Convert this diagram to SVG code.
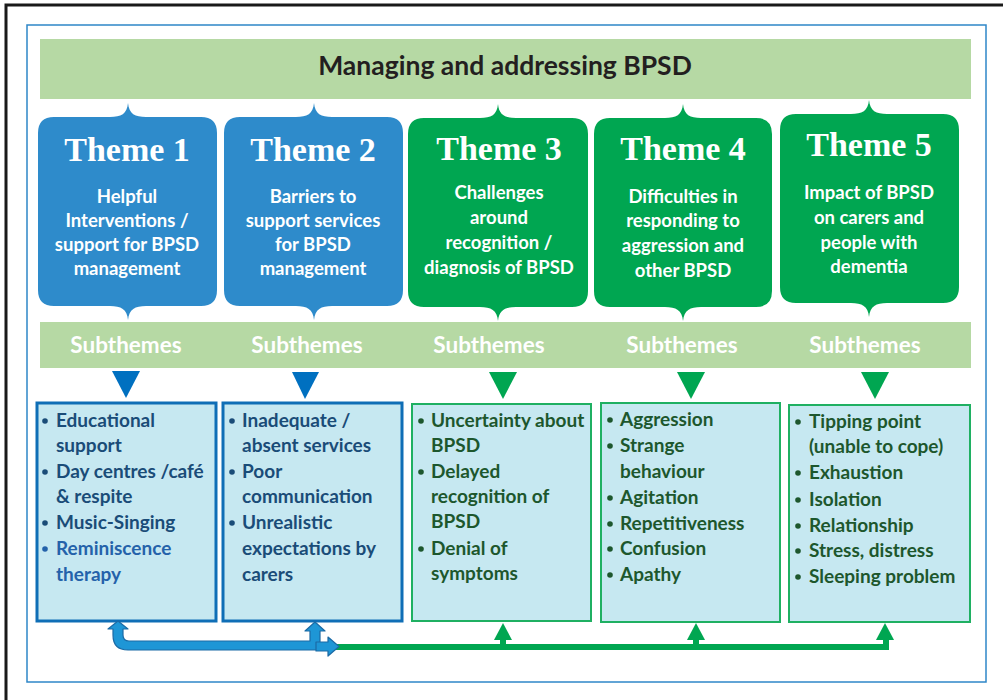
<svg xmlns="http://www.w3.org/2000/svg" width="1003" height="700" viewBox="0 0 1003 700">
  <style>
    .title { font-family: Lato, "Liberation Sans", sans-serif; font-weight: 700; font-size: 26.5px; fill: #231f20; text-anchor: middle; }
    .theme-blue { fill: #2e8bcb; }
    .theme-green { fill: #00a651; }
    .th { font-family: "Liberation Serif", serif; font-weight: 700; font-size: 34px; fill: #ffffff; text-anchor: middle; }
    .tb { font-family: Lato, "Liberation Sans", sans-serif; font-weight: 700; font-size: 18.5px; fill: #ffffff; text-anchor: middle; }
    .sub { font-family: Lato, "Liberation Sans", sans-serif; font-weight: 700; font-size: 22.5px; fill: #ffffff; text-anchor: middle; }
    .box-b { fill: #c6e8f1; stroke: #0f6eb6; stroke-width: 3; }
    .box-g { fill: #c6e8f1; stroke: #1fb062; stroke-width: 2; }
    .li { font-family: Lato, "Liberation Sans", sans-serif; font-weight: 700; font-size: 19px; }
    .lb { fill: #1a4c78; }
    .lb2 { fill: #2462aa; }
    .lg { fill: #1d572d; }
    .tri-b { fill: #0070c0; }
    .tri-g { fill: #00a651; }
  </style>

  <!-- outer frames -->
  <rect x="6" y="5" width="1010" height="710" fill="none" stroke="#1a1a1a" stroke-width="3"/>
  <rect x="27" y="25" width="959" height="657" fill="none" stroke="#2e86c8" stroke-width="1.5"/>

  <!-- header bar -->
  <g id="header">
    <rect x="40" y="39" width="931" height="60" fill="#b6d9a4"/>
    <text class="title" x="505" y="75">Managing and addressing BPSD</text>
  </g>

  <!-- theme cards -->
  <g id="theme1">
    <path class="theme-blue" d="M54,117 L110,117 C121,117 127,114 128,103 C129,114 135,117 146,117 L201,117 Q217,117 217,133 L217,290 Q217,306 201,306 L146,306 C135,306 129,309 128,320 C127,309 121,306 110,306 L54,306 Q38,306 38,290 L38,133 Q38,117 54,117 Z"/>
    <text class="th" x="127" y="161">Theme 1</text>
    <text class="tb" x="127" y="203">Helpful</text>
    <text class="tb" x="127" y="227">Interventions /</text>
    <text class="tb" x="127" y="251">support for BPSD</text>
    <text class="tb" x="127" y="275">management</text>
  </g>
  <g id="theme2">
    <path class="theme-blue" d="M240,117 L296,117 C307,117 313,114 314,103 C315,114 321,117 332,117 L387,117 Q403,117 403,133 L403,290 Q403,306 387,306 L332,306 C321,306 315,309 314,320 C313,309 307,306 296,306 L240,306 Q224,306 224,290 L224,133 Q224,117 240,117 Z"/>
    <text class="th" x="313" y="161">Theme 2</text>
    <text class="tb" x="313" y="203">Barriers to</text>
    <text class="tb" x="313" y="227">support services</text>
    <text class="tb" x="313" y="251">for BPSD</text>
    <text class="tb" x="313" y="275">management</text>
  </g>
  <g id="theme3">
    <path class="theme-green" d="M424,118 L480,118 C491,118 497,115 498,104 C499,115 505,118 516,118 L572,118 Q588,118 588,134 L588,291 Q588,307 572,307 L516,307 C505,307 499,310 498,321 C497,310 491,307 480,307 L424,307 Q408,307 408,291 L408,134 Q408,118 424,118 Z"/>
    <text class="th" x="499" y="160">Theme 3</text>
    <text class="tb" x="499" y="199">Challenges</text>
    <text class="tb" x="499" y="224">around</text>
    <text class="tb" x="499" y="249">recognition /</text>
    <text class="tb" x="499" y="274">diagnosis of BPSD</text>
  </g>
  <g id="theme4">
    <path class="theme-green" d="M610,118 L665,118 C676,118 682,115 683,104 C684,115 690,118 701,118 L756,118 Q772,118 772,134 L772,291 Q772,307 756,307 L701,307 C690,307 684,310 683,321 C682,310 676,307 665,307 L610,307 Q594,307 594,291 L594,134 Q594,118 610,118 Z"/>
    <text class="th" x="683" y="160">Theme 4</text>
    <text class="tb" x="683" y="203">Difficulties in</text>
    <text class="tb" x="683" y="227">responding to</text>
    <text class="tb" x="683" y="252">aggression and</text>
    <text class="tb" x="683" y="277">other BPSD</text>
  </g>
  <g id="theme5">
    <path class="theme-green" d="M796,114 L851,114 C862,114 868,111 869,100 C870,111 876,114 887,114 L943,114 Q959,114 959,130 L959,287 Q959,303 943,303 L887,303 C876,303 870,306 869,317 C868,306 862,303 851,303 L796,303 Q780,303 780,287 L780,130 Q780,114 796,114 Z"/>
    <text class="th" x="869" y="156">Theme 5</text>
    <text class="tb" x="869" y="199">Impact of BPSD</text>
    <text class="tb" x="869" y="224">on carers and</text>
    <text class="tb" x="869" y="249">people with</text>
    <text class="tb" x="869" y="273">dementia</text>
  </g>

  <!-- subthemes bar -->
  <g id="subthemes">
    <rect x="40" y="322" width="931" height="46" fill="#b6d9a4"/>
    <text class="sub" x="126" y="353">Subthemes</text>
    <text class="sub" x="307" y="353">Subthemes</text>
    <text class="sub" x="489" y="353">Subthemes</text>
    <text class="sub" x="682" y="353">Subthemes</text>
    <text class="sub" x="865" y="353">Subthemes</text>
    <polygon class="tri-b" points="112,371 140,371 126,398"/>
    <polygon class="tri-b" points="292,372 319,372 305,399"/>
    <polygon class="tri-g" points="489,372 517,372 503,399"/>
    <polygon class="tri-g" points="677,372 705,372 691,399"/>
    <polygon class="tri-g" points="861,372 889,372 875,399"/>
  </g>

  <!-- subtheme lists -->
  <g id="list1" class="li">
    <rect class="box-b" x="37" y="403" width="179" height="218"/>
    <g class="lb">
      <circle cx="45" cy="421" r="2.8"/>
      <text x="56" y="427">Educational</text>
      <text x="56" y="452">support</text>
      <circle cx="45" cy="472" r="2.8"/>
      <text x="56" y="478">Day centres /café</text>
      <text x="56" y="503">&amp; respite</text>
      <circle cx="45" cy="523" r="2.8"/>
      <text x="56" y="529">Music-Singing</text>
    </g>
    <g class="lb2">
      <circle cx="45" cy="549" r="2.8"/>
      <text x="56" y="555">Reminiscence</text>
      <text x="56" y="581">therapy</text>
    </g>
  </g>
  <g id="list2" class="li lb">
    <rect class="box-b" x="223" y="403" width="179" height="218"/>
    <circle cx="232" cy="421" r="2.8"/>
    <text x="242" y="427">Inadequate /</text>
    <text x="242" y="452">absent services</text>
    <circle cx="232" cy="472" r="2.8"/>
    <text x="242" y="478">Poor</text>
    <text x="242" y="503">communication</text>
    <circle cx="232" cy="523" r="2.8"/>
    <text x="242" y="529">Unrealistic</text>
    <text x="242" y="555">expectations by</text>
    <text x="242" y="581">carers</text>
  </g>
  <g id="list3" class="li lg">
    <rect class="box-g" x="412" y="404" width="179" height="217"/>
    <circle cx="421" cy="421" r="2.8"/>
    <text x="431" y="427">Uncertainty about</text>
    <text x="431" y="452">BPSD</text>
    <circle cx="421" cy="472" r="2.8"/>
    <text x="431" y="478">Delayed</text>
    <text x="431" y="503">recognition of</text>
    <text x="431" y="528">BPSD</text>
    <circle cx="421" cy="549" r="2.8"/>
    <text x="431" y="555">Denial of</text>
    <text x="431" y="580">symptoms</text>
  </g>
  <g id="list4" class="li lg">
    <rect class="box-g" x="601" y="403" width="179" height="219"/>
    <circle cx="610" cy="420" r="2.8"/>
    <text x="620" y="426">Aggression</text>
    <circle cx="610" cy="446" r="2.8"/>
    <text x="620" y="452">Strange</text>
    <text x="620" y="478">behaviour</text>
    <circle cx="610" cy="498" r="2.8"/>
    <text x="620" y="504">Agitation</text>
    <circle cx="610" cy="524" r="2.8"/>
    <text x="620" y="530">Repetitiveness</text>
    <circle cx="610" cy="549" r="2.8"/>
    <text x="620" y="555">Confusion</text>
    <circle cx="610" cy="575" r="2.8"/>
    <text x="620" y="581">Apathy</text>
  </g>
  <g id="list5" class="li lg">
    <rect class="box-g" x="789" y="405" width="181" height="217"/>
    <circle cx="798" cy="422" r="2.8"/>
    <text x="809" y="428">Tipping point</text>
    <text x="809" y="453">(unable to cope)</text>
    <circle cx="798" cy="473" r="2.8"/>
    <text x="809" y="479">Exhaustion</text>
    <circle cx="798" cy="500" r="2.8"/>
    <text x="809" y="506">Isolation</text>
    <circle cx="798" cy="526" r="2.8"/>
    <text x="809" y="532">Relationship</text>
    <circle cx="798" cy="551" r="2.8"/>
    <text x="809" y="557">Stress, distress</text>
    <circle cx="798" cy="577" r="2.8"/>
    <text x="809" y="583">Sleeping problem</text>
  </g>

  <!-- connectors -->
  <g id="connectors">
    <!-- green feedback line with up arrows -->
    <path d="M132,647 H886 V638" fill="none" stroke="#00a651" stroke-width="6"/>
    <path d="M503,647 V638 M696,647 V638" fill="none" stroke="#00a651" stroke-width="6"/>
    <polygon points="494,640 512,640 503,623" fill="#00a651"/>
    <polygon points="687,640 705,640 696,623" fill="#00a651"/>
    <polygon points="876,640 894,640 885,623" fill="#00a651"/>
    <!-- blue bent arrow linking lists 1 and 2 -->
    <path d="M118,621 L128,629 L123,629 L123,635 Q123,641 129,641 L310,641 L310,631 L305,631 L315,622 L325,631 L320,631 L320,650 L128,650 Q113,650 113,635 L113,629 L108,629 Z" fill="#1e96d6" stroke="#1b6aa5" stroke-width="1.2" stroke-linejoin="round"/>
    <path d="M316,642 L328,642 L328,637 L339,646.5 L328,656 L328,651 L316,651 Z" fill="#1e96d6" stroke="#1b6aa5" stroke-width="1.2" stroke-linejoin="round"/>
  </g>
</svg>
